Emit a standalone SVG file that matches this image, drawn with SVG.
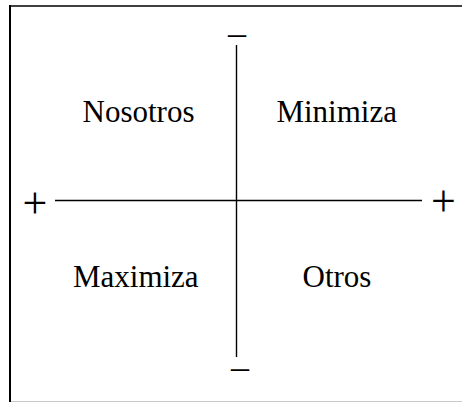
<svg xmlns="http://www.w3.org/2000/svg" width="462" height="403" viewBox="0 0 462 403">
<style>
.lbl{font-family:"Liberation Serif","Times New Roman",serif;font-size:31px;fill:#000;text-anchor:middle}
.sign{font-family:"Liberation Serif","Times New Roman",serif;fill:#000;text-anchor:middle}
.axis{stroke:#000;stroke-width:1.4;fill:none}
</style>
<rect width="462" height="403" fill="#fff"/>
<g id="frame">
<line x1="10" y1="5" x2="10" y2="402" stroke="#000" stroke-width="2"/>
<line x1="9" y1="6" x2="462" y2="6" stroke="#000" stroke-width="1.6"/>
<line x1="11" y1="401.5" x2="462" y2="401.5" stroke="#c8c8c8" stroke-width="1"/>
</g>
<g id="connectors">
<line class="axis" x1="55" y1="200.5" x2="422" y2="200.5"/>
<line class="axis" x1="236.5" y1="45" x2="236.5" y2="357"/>
</g>
<g id="signs">
<text class="sign" x="35" y="218" font-size="44">+</text>
<text class="sign" x="443.5" y="216" font-size="44">+</text>
<text class="sign" x="237" y="45" font-size="36">–</text>
<text class="sign" x="240" y="379" font-size="36">–</text>
</g>
<g id="q1"><text class="lbl" x="138.5" y="122">Nosotros</text></g>
<g id="q2"><text class="lbl" x="336.7" y="122">Minimiza</text></g>
<g id="q3"><text class="lbl" x="135.8" y="287">Maximiza</text></g>
<g id="q4"><text class="lbl" x="337" y="287">Otros</text></g>
</svg>
